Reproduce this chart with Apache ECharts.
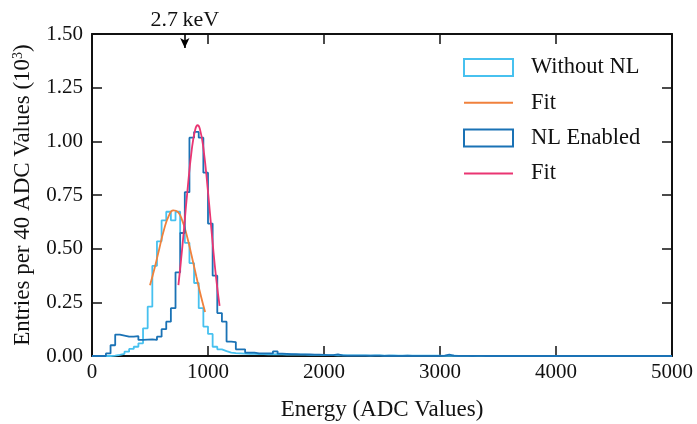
<!DOCTYPE html>
<html>
<head>
<meta charset="utf-8">
<script src="https://cdn.jsdelivr.net/npm/echarts@6/dist/echarts.min.js"></script>
<style>
  html, body { margin: 0; padding: 0; background: #fff; }
  #chart { width: 697px; height: 424px; }
</style>
</head>
<body>
<div id="chart"></div>
<script>
// Histogram binning (ADC values per bin) and axis ticks
const binWidth = 40;
const xTicks = [0, 1000, 2000, 3000, 4000, 5000];
const yTicks = [0, 0.25, 0.5, 0.75, 1.0, 1.25, 1.5];

// Entries per bin (10^3), bins starting at 0 ADC
const withoutNL = [
  0, 0, 0, 0, 0.002, 0.005, 0.010, 0.020, 0.033, 0.043,
  0.059, 0.129, 0.230, 0.420, 0.534, 0.632, 0.672, 0.632, 0.672, 0.573,
  0.527, 0.433, 0.340, 0.223, 0.137, 0.103, 0.043, 0.031, 0.023, 0.016,
  0.013, 0.012, 0.011, 0.010, 0.010, 0.009, 0.009, 0.008, 0.008, 0.009,
  0.008, 0.007, 0.007, 0.006, 0.006, 0.006, 0.005, 0.005, 0.005, 0.004,
  0.004, 0.004, 0.003, 0.004, 0.003, 0.003, 0.003, 0.003, 0.003, 0.002,
  0.003, 0.003, 0.002, 0.002, 0.003, 0.002, 0.002, 0.002, 0.002, 0.002,
  0.002, 0.002, 0.002, 0.002, 0.002, 0.001, 0.001, 0.002, 0.001, 0.001,
  0.001, 0.001, 0.001, 0.001, 0.001, 0.001, 0.001, 0.001, 0.001, 0.001,
  0.001, 0.001, 0.001, 0, 0.001, 0.001, 0, 0.001, 0, 0.001,
  0, 0.001, 0, 0, 0.001, 0, 0, 0, 0.001, 0,
  0, 0, 0.001, 0, 0, 0, 0, 0, 0, 0,
  0, 0, 0, 0, 0
];

const nlEnabled = [
  0, 0, 0, 0.012, 0.050, 0.100, 0.095, 0.090, 0.090, 0.093,
  0.075, 0.076, 0.077, 0.075, 0.090, 0.125, 0.160, 0.223, 0.390, 0.573,
  0.763, 1.017, 1.044, 1.017, 0.854, 0.617, 0.374, 0.200, 0.160, 0.067,
  0.065, 0.031, 0.031, 0.016, 0.016, 0.012, 0.012, 0.012, 0.012, 0.022,
  0.011, 0.010, 0.009, 0.009, 0.008, 0.008, 0.007, 0.006, 0.006, 0.005,
  0.004, 0.004, 0.008, 0.003, 0.002, 0.002, 0.002, 0.002, 0.002, 0.002,
  0.002, 0.002, 0.001, 0.002, 0.001, 0.001, 0.001, 0.002, 0.001, 0.001,
  0.001, 0.001, 0.001, 0.001, 0.001, 0.002, 0.006, 0.002, 0.001, 0.001,
  0.001, 0, 0.001, 0.001, 0, 0.001, 0, 0.001, 0, 0,
  0, 0, 0, 0, 0, 0, 0, 0, 0, 0,
  0, 0, 0, 0, 0, 0, 0, 0, 0, 0,
  0, 0, 0, 0, 0, 0, 0, 0, 0, 0,
  0, 0, 0, 0, 0
];

// Fitted peak shapes, sampled along the fit range
const fitWithoutNLX = [500, 540, 580, 620, 660, 700, 740, 780, 820, 860, 900, 940, 975];
const fitWithoutNLY = [0.33, 0.41, 0.50, 0.587, 0.65, 0.678, 0.671, 0.628, 0.556, 0.465, 0.369, 0.277, 0.205];

const fitNLX = [745, 780, 820, 860, 890, 910, 930, 960, 1000, 1040, 1070, 1100];
const fitNLY = [0.33, 0.515, 0.754, 0.961, 1.055, 1.075, 1.058, 0.970, 0.765, 0.527, 0.364, 0.233];

// Energy marker
const markerEnergy = 800;
const markerArrowEnd = 1.435;
const markerText = '2.7\u2009keV';

const colors = {
  withoutNL: '#47c1ef',
  fitWithoutNL: '#f0813c',
  nlEnabled: '#1a72b5',
  fitNL: '#ea3572'
};
const FONT = '"Liberation Serif", "Times New Roman", serif';
const INK = '#111';

// Step outline: each bin holds its value from its lower edge to the next edge
function stepData(values) {
  const pts = [[0, 0]];
  values.forEach((v, i) => pts.push([i * binWidth, v]));
  pts.push([values.length * binWidth, values[values.length - 1]]);
  return pts;
}
function pairs(xs, ys) { return xs.map((x, i) => [x, ys[i]]); }

const chart = echarts.init(document.getElementById('chart'), null, { renderer: 'canvas' });

const xMin = xTicks[0], xMax = xTicks[xTicks.length - 1];
const yMin = yTicks[0], yMax = yTicks[yTicks.length - 1];
const xStep = xTicks[1] - xTicks[0], yStep = yTicks[1] - yTicks[0];

const tickCommon = { show: true, inside: true, length: 10, lineStyle: { color: INK, width: 1.5 } };
const lineCommon = { show: true, onZero: false, lineStyle: { color: INK, width: 2 } };
// Fit entries show only their line in the legend
const hiddenMarker = { color: 'rgba(0,0,0,0)', borderWidth: 0, opacity: 0 };

chart.setOption({
  animation: false,
  backgroundColor: '#fff',
  grid: { left: 92, right: 25, top: 34, bottom: 68, containLabel: false, outerBoundsMode: 'none' },
  legend: {
    left: 463, top: 56, orient: 'vertical', padding: 0,
    itemWidth: 49, itemHeight: 17, itemGap: 12.3,
    textStyle: { fontFamily: FONT, fontSize: 22.5, color: INK, lineHeight: 22, padding: [0, 0, 0, 13] },
    data: [
      { name: 'Without NL', icon: 'rect', itemStyle: { color: '#fff', borderColor: colors.withoutNL, borderWidth: 2 } },
      { name: 'Fit ', itemStyle: hiddenMarker },
      { name: 'NL Enabled', icon: 'rect', itemStyle: { color: '#fff', borderColor: colors.nlEnabled, borderWidth: 2 } },
      { name: 'Fit', itemStyle: hiddenMarker }
    ]
  },
  xAxis: [
    {
      type: 'value', position: 'bottom', min: xMin, max: xMax, interval: xStep,
      name: 'Energy (ADC Values)', nameLocation: 'middle', nameGap: 42,
      nameTextStyle: { fontFamily: FONT, fontSize: 23, color: INK },
      axisLine: lineCommon, axisTick: tickCommon,
      axisLabel: { fontFamily: FONT, fontSize: 21, color: INK, margin: 6, formatter: v => String(v) },
      splitLine: { show: false }
    },
    {
      type: 'value', position: 'top', min: xMin, max: xMax, interval: xStep,
      axisLine: lineCommon, axisTick: tickCommon,
      axisLabel: { show: false }, splitLine: { show: false }
    }
  ],
  yAxis: [
    {
      type: 'value', position: 'left', min: yMin, max: yMax, interval: yStep,
      name: 'Entries per 40 ADC Values (10{sup|3})', nameLocation: 'middle', nameGap: 58, nameRotate: 90,
      nameTextStyle: {
        fontFamily: FONT, fontSize: 23, color: INK,
        rich: { sup: { fontFamily: FONT, fontSize: 14, color: INK, verticalAlign: 'top', lineHeight: 23 } }
      },
      axisLine: lineCommon, axisTick: tickCommon,
      axisLabel: { fontFamily: FONT, fontSize: 21, color: INK, margin: 9, formatter: v => v.toFixed(2) },
      splitLine: { show: false }
    },
    {
      type: 'value', position: 'right', min: yMin, max: yMax, interval: yStep,
      axisLine: lineCommon, axisTick: tickCommon,
      axisLabel: { show: false }, splitLine: { show: false }
    }
  ],
  series: [
    {
      name: 'Without NL', type: 'line', step: 'end', symbol: 'none',
      data: stepData(withoutNL),
      lineStyle: { color: colors.withoutNL, width: 1.8 }, itemStyle: { color: colors.withoutNL },
      z: 2
    },
    {
      name: 'Fit ', type: 'line', smooth: true, symbol: 'none',
      data: pairs(fitWithoutNLX, fitWithoutNLY),
      lineStyle: { color: colors.fitWithoutNL, width: 1.8 }, itemStyle: { color: colors.fitWithoutNL },
      z: 3
    },
    {
      name: 'NL Enabled', type: 'line', step: 'end', symbol: 'none',
      data: stepData(nlEnabled),
      lineStyle: { color: colors.nlEnabled, width: 1.8 }, itemStyle: { color: colors.nlEnabled },
      z: 4
    },
    {
      name: 'Fit', type: 'line', smooth: true, symbol: 'none',
      data: pairs(fitNLX, fitNLY),
      lineStyle: { color: colors.fitNL, width: 1.8 }, itemStyle: { color: colors.fitNL },
      z: 5,
      markLine: {
        silent: true, symbol: ['none', 'arrow'], symbolSize: [7, 10],
        label: { show: false },
        lineStyle: { color: '#000', width: 1.6, type: 'solid' },
        data: [[{ coord: [markerEnergy, yMax] }, { coord: [markerEnergy, markerArrowEnd] }]]
      }
    }
  ]
});

// Marker caption above the frame, placed through the axis scales
const mx = chart.convertToPixel({ xAxisIndex: 0 }, markerEnergy);
const my = chart.convertToPixel({ yAxisIndex: 0 }, yMax);
chart.setOption({
  graphic: [{
    type: 'text', x: mx, y: my - 14,
    style: { text: markerText, fontFamily: FONT, fontSize: 22, fill: INK, align: 'center', verticalAlign: 'middle' }
  }]
});
</script>
</body>
</html>
